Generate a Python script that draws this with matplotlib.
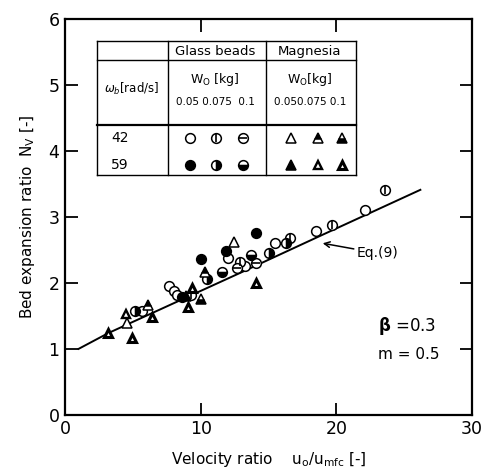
import numpy as np
import matplotlib
matplotlib.use("Agg")
import matplotlib.pyplot as plt

plt.rcParams['font.family'] = ['DejaVu Sans']

# Eq.(9) line
eq_x = [1.0, 3.2, 12.9, 19.0, 26.2]
eq_y = [1.0, 1.24, 2.15, 2.73, 3.41]

# glass beads, omega_b = 42 rad/s
gb42_005_x = [5.65, 7.7, 8.06, 8.23, 12.04, 13.26, 15.5, 18.5, 22.1]
gb42_005_y = [1.58, 1.95, 1.88, 1.82, 2.38, 2.25, 2.61, 2.79, 3.10]
gb42_0075_x = [9.3, 12.9, 16.6, 19.7, 23.6]
gb42_0075_y = [1.82, 2.31, 2.68, 2.88, 3.40]
gb42_01_x = [12.65, 14.08]
gb42_01_y = [2.23, 2.30]
# glass beads, omega_b = 59 rad/s
gb59_005_x = [8.6, 10.0, 11.84, 14.05]
gb59_005_y = [1.79, 2.36, 2.48, 2.75]
gb59_0075_x = [5.16, 10.5, 15.03, 16.3]
gb59_0075_y = [1.57, 2.06, 2.45, 2.61]
gb59_01_x = [11.6, 13.7]
gb59_01_y = [2.17, 2.43]

# magnesia
mg42_005_x = [4.55, 12.48]
mg42_005_y = [1.39, 2.62]
mg42_0075_x = [6.09, 10.3]
mg42_0075_y = [1.67, 2.16]
mg42_01_x = [10.0]
mg42_01_y = [1.76]
mg59_005_x = [8.9]
mg59_005_y = [1.80]
mg59_0075_x = [4.47]
mg59_0075_y = [1.53]
mg59_01_x = [3.15, 4.91, 6.44, 9.04, 9.34, 14.1]
mg59_01_y = [1.24, 1.17, 1.49, 1.64, 1.92, 2.0]

styles = {
    'gb42_005': dict(marker='o', mfc='white', mec='k', ms=7),
    'gb42_0075': dict(marker='o', mfc='white', mec='k', ms=7, bar='|'),
    'gb42_01': dict(marker='o', mfc='white', mec='k', ms=7, bar='_'),
    'gb59_005': dict(marker='o', mfc='k', mec='k', ms=7),
    'gb59_0075': dict(marker='o', mfc='k', mec='k', ms=7, fillstyle='right', mfcalt='white'),
    'gb59_01': dict(marker='o', mfc='k', mec='k', ms=7, fillstyle='bottom', mfcalt='white'),
    'mg42_005': dict(marker='^', mfc='white', mec='k', ms=7),
    'mg42_0075': dict(marker='^', mfc='k', mec='k', ms=7, fillstyle='top', mfcalt='white'),
    'mg42_01': dict(marker='^', mfc='k', mec='k', ms=7, fillstyle='bottom', mfcalt='white'),
    'mg59_005': dict(marker='^', mfc='k', mec='k', ms=7),
    'mg59_0075': dict(marker='^', mfc='white', mec='k', ms=6.3, mew=1.7),
    'mg59_01': dict(marker='^', mfc='white', mec='k', ms=5.8, mew=2.2),
}


def draw(ax, x, y, st, transform=None):
    kw = dict(ls='none', ms=st['ms'], marker=st['marker'], mec=st['mec'],
              mfc=st['mfc'], mew=st.get('mew', 1.1), zorder=3)
    if 'fillstyle' in st:
        kw['fillstyle'] = st['fillstyle']
        kw['markerfacecoloralt'] = st['mfcalt']
    if transform is not None:
        kw['transform'] = transform
        kw['clip_on'] = False
    ax.plot(x, y, **kw)
    if 'bar' in st:
        kw2 = dict(ls='none', ms=st['ms'] * 0.9, marker=st['bar'], mec='k', mew=1.2, zorder=4)
        if transform is not None:
            kw2['transform'] = transform
            kw2['clip_on'] = False
        ax.plot(x, y, **kw2)


fig = plt.figure(figsize=(4.85, 4.72), dpi=100)
ax = fig.add_axes([0.134, 0.121, 0.839, 0.839])

ax.plot(eq_x, eq_y, color='k', lw=1.4, zorder=2)

series = [
    ('gb42_005', gb42_005_x, gb42_005_y), ('gb42_0075', gb42_0075_x, gb42_0075_y),
    ('gb42_01', gb42_01_x, gb42_01_y), ('gb59_005', gb59_005_x, gb59_005_y),
    ('gb59_0075', gb59_0075_x, gb59_0075_y), ('gb59_01', gb59_01_x, gb59_01_y),
    ('mg42_005', mg42_005_x, mg42_005_y), ('mg42_0075', mg42_0075_x, mg42_0075_y),
    ('mg42_01', mg42_01_x, mg42_01_y), ('mg59_005', mg59_005_x, mg59_005_y),
    ('mg59_0075', mg59_0075_x, mg59_0075_y), ('mg59_01', mg59_01_x, mg59_01_y),
]
for name, x, y in series:
    draw(ax, x, y, styles[name])

ax.set_xlim(0, 30)
ax.set_ylim(0, 6)
ax.set_xticks([0, 10, 20, 30])
ax.set_yticks([0, 1, 2, 3, 4, 5, 6])
ax.tick_params(direction='in', length=9, width=1.3, labelsize=12.5,
               top=True, right=True, pad=4)
for s in ax.spines.values():
    s.set_linewidth(1.6)

ax.set_xlabel('Velocity ratio    u$_\\mathrm{o}$/u$_\\mathrm{mfc}$ [-]', fontsize=11, labelpad=8)
ax.set_ylabel('Bed expansion ratio  N$_\\mathrm{V}$ [-]', fontsize=11, labelpad=8)

# annotations
ax.annotate('Eq.(9)', xy=(19.0, 2.6), xytext=(21.5, 2.45), fontsize=10,
            va='center', ha='left',
            arrowprops=dict(arrowstyle='->', color='k', lw=1.1, shrinkA=0, shrinkB=0))
ax.text(23.1, 1.34, r'$\mathbf{\beta}$ =0.3', fontsize=12, va='center')
ax.text(23.1, 0.91, 'm = 0.5', fontsize=11, va='center')

# legend table in axes fraction
T = ax.transAxes
L, R, TOP, BOT = 0.079, 0.714, 0.944, 0.606
for yy, lw in [(TOP, 1.0), (0.895, 1.0), (0.732, 1.6), (BOT, 1.0)]:
    ax.plot([L, R], [yy, yy], color='k', lw=lw, transform=T, clip_on=False)
for xx in [L, 0.252, 0.494, R]:
    ax.plot([xx, xx], [BOT, TOP], color='k', lw=1.0, transform=T, clip_on=False)

ax.text(0.369, 0.917, 'Glass beads', transform=T, ha='center', va='center', fontsize=9.5)
ax.text(0.600, 0.917, 'Magnesia', transform=T, ha='center', va='center', fontsize=9.5)
ax.text(0.163, 0.823, '$\\omega_b$[rad/s]', transform=T, ha='center', va='center', fontsize=8.5)
ax.text(0.369, 0.848, 'W$_\\mathrm{O}$ [kg]', transform=T, ha='center', va='center', fontsize=9)
ax.text(0.602, 0.848, 'W$_\\mathrm{O}$[kg]', transform=T, ha='center', va='center', fontsize=9)
ax.text(0.369, 0.791, '0.05 0.075  0.1', transform=T, ha='center', va='center', fontsize=7.5)
ax.text(0.602, 0.791, '0.050.075 0.1', transform=T, ha='center', va='center', fontsize=7.5)
ax.text(0.135, 0.699, '42', transform=T, ha='center', va='center', fontsize=10)
ax.text(0.135, 0.631, '59', transform=T, ha='center', va='center', fontsize=10)

col_x = [0.307, 0.371, 0.437, 0.555, 0.621, 0.681]
row_y = [0.699, 0.631]
legend_keys = [['gb42_005', 'gb42_0075', 'gb42_01', 'mg42_005', 'mg42_0075', 'mg42_01'],
               ['gb59_005', 'gb59_0075', 'gb59_01', 'mg59_005', 'mg59_0075', 'mg59_01']]
for r, keys in enumerate(legend_keys):
    for c, k in enumerate(keys):
        draw(ax, [col_x[c]], [row_y[r]], styles[k], transform=T)

fig.savefig('out.png', dpi=100)
